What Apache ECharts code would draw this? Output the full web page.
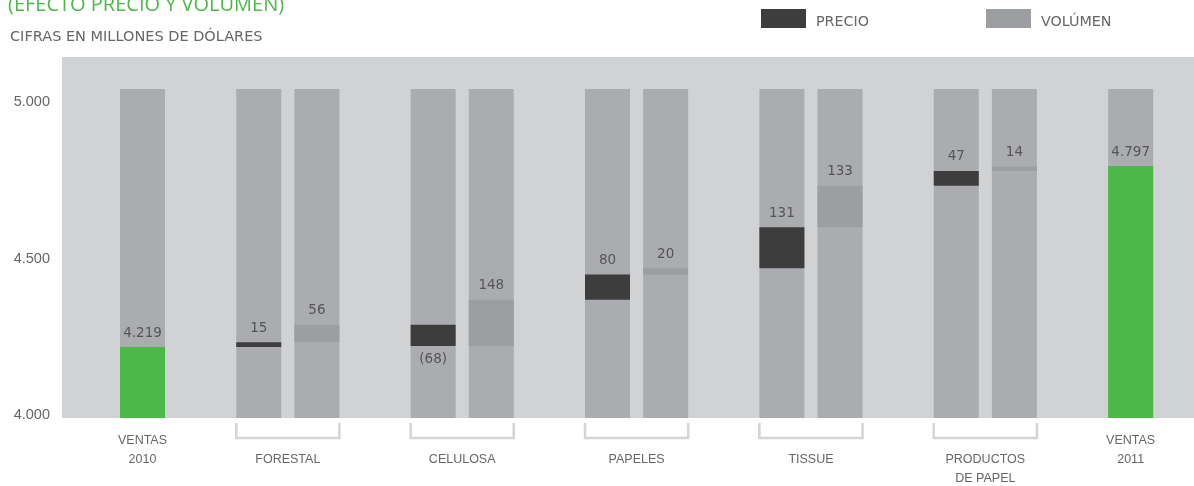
<!DOCTYPE html>
<html>
<head>
<meta charset="utf-8">
<script src="https://cdn.jsdelivr.net/npm/echarts@6/dist/echarts.min.js"></script>
<style>
html,body{margin:0;padding:0;background:#fff;}
#chart{width:1194px;height:486px;}
</style>
</head>
<body>
<div id="chart"></div>
<script>
// ---- data ----
const groupNames = ['VENTAS\n2010', 'FORESTAL', 'CELULOSA', 'PAPELES', 'TISSUE', 'PRODUCTOS\nDE PAPEL', 'VENTAS\n2011'];
const ventas2010 = 4219;
const ventas2011 = 4797;
const precio = [15, -68, 80, 131, 47];     // FORESTAL, CELULOSA, PAPELES, TISSUE, PRODUCTOS DE PAPEL
const volumen = [56, 148, 20, 133, 14];
const yTicks = [4000, 4500, 5000];
const trackTop = 5043;
const legendNames = ['PRECIO', 'VOLÚMEN'];

// ---- layout / style ----
const Y_MIN = 3992, Y_MAX = 5145;
const BAR_W = 45;
const C_BG = '#d1d2d4', C_TRACK = '#abacaf', C_VOL = '#9d9ea1', C_PRE = '#3d3d3d', C_GREEN = '#4cb848';
const FONT = "'Open Sans', 'Noto Sans', sans-serif";
const WIDE = "'DejaVu Sans', 'Open Sans', sans-serif";
const NARROW = "'Liberation Sans Narrow', 'Liberation Sans', sans-serif";

function fmt(v) { return String(v).replace(/\B(?=(\d{3})+(?!\d))/g, '.'); }

// slot positions on x (0 .. 17)
const nSeg = precio.length;
const lastSlot = 2 + 3 * nSeg;
const precioData = [], volumenData = [], bracketData = [];
let run = ventas2010;
for (let i = 0; i < nSeg; i++) {
  const sp = 2 + 3 * i, sv = 3 + 3 * i;
  precioData.push([sp, run, run + precio[i], precio[i]]);
  run += precio[i];
  volumenData.push([sv, run, run + volumen[i], volumen[i]]);
  run += volumen[i];
  bracketData.push([sp, sv]);
}
const allSlots = [0];
for (let i = 0; i < nSeg; i++) allSlots.push(2 + 3 * i, 3 + 3 * i);
allSlots.push(lastSlot);
const labelPos = [0];
for (let i = 0; i < nSeg; i++) labelPos.push(2.5 + 3 * i);
labelPos.push(lastSlot);
const labelMap = {};
labelPos.forEach((p, i) => {
  const bracketed = i > 0 && i < labelPos.length - 1;
  labelMap[String(p)] = bracketed ? '{sp|\u00a0}\n' + groupNames[i] : groupNames[i];
});

function segRenderer(color) {
  return function (params, api) {
    const x = api.value(0), a = api.value(1), b = api.value(2), d = api.value(3);
    const top = api.coord([x, Math.max(a, b)]);
    const bot = api.coord([x, Math.min(a, b)]);
    const label = d >= 0 ? String(d) : '(' + (-d) + ')';
    return {
      type: 'group',
      children: [
        { type: 'rect', shape: { x: top[0] - BAR_W / 2, y: top[1], width: BAR_W, height: bot[1] - top[1] }, style: { fill: color } },
        { type: 'text', style: { text: label, x: top[0], y: d >= 0 ? top[1] - 14 : bot[1] + 14, align: 'center', verticalAlign: 'middle', fill: '#555', font: '13.5px ' + WIDE } }
      ]
    };
  };
}

const legendText = { color: '#666', fontSize: 14.3, fontFamily: WIDE,
  rich: { t: { color: '#666', fontSize: 14.3, fontFamily: WIDE, padding: [7, 0, 0, 5] } } };

const chart = echarts.init(document.getElementById('chart'), null, { renderer: 'canvas' });
chart.setOption({
  animation: false,
  backgroundColor: '#fff',
  title: [
    { text: '(EFECTO PRECIO Y VOLUMEN)', left: 8, top: -5, padding: 0, textStyle: { color: C_GREEN, fontSize: 20, fontWeight: 'normal', fontFamily: FONT } },
    { text: 'CIFRAS EN MILLONES DE DÓLARES', left: 10, top: 30, padding: 0, textStyle: { color: '#666', fontSize: 14.5, fontWeight: 'normal', fontFamily: WIDE } }
  ],
  legend: [
    { data: [legendNames[0]], left: 761, top: 9, padding: 0, itemWidth: 45, itemHeight: 19, icon: 'rect', selectedMode: false,
      formatter: n => '{t|' + n + '}', textStyle: legendText },
    { data: [legendNames[1]], left: 986, top: 9, padding: 0, itemWidth: 45, itemHeight: 19, icon: 'rect', selectedMode: false,
      formatter: n => '{t|' + n + '}', textStyle: legendText }
  ],
  grid: { left: 62, right: 0, top: 57, bottom: 68, show: true, backgroundColor: C_BG, borderWidth: 0, outerBoundsMode: 'none', containLabel: false },
  xAxis: {
    type: 'value', min: -1.385, max: 18.09,
    axisLine: { show: false }, axisTick: { show: false }, splitLine: { show: false },
    axisLabel: {
      customValues: labelPos,
      formatter: v => labelMap[String(v)] || '',
      color: '#666', fontSize: 12.5, fontFamily: NARROW, lineHeight: 19, margin: 13, verticalAlign: 'top',
      rich: { sp: { fontSize: 12.5, lineHeight: 19 } }
    }
  },
  yAxis: {
    type: 'value', min: Y_MIN, max: Y_MAX,
    axisLine: { show: false }, axisTick: { show: false }, splitLine: { show: false },
    axisLabel: { customValues: yTicks, formatter: v => fmt(v), color: '#666', fontSize: 14.5, fontFamily: NARROW, margin: 12, padding: [0, 0, 4, 0] }
  },
  series: [
    { name: 'track', type: 'bar', silent: true, barWidth: BAR_W, barGap: '-100%',
      itemStyle: { color: C_TRACK }, data: allSlots.map(s => [s, trackTop]), z: 1 },
    { name: 'ventas', type: 'bar', silent: true, barWidth: BAR_W, barGap: '-100%',
      itemStyle: { color: C_GREEN }, z: 2,
      label: { show: true, position: 'top', distance: 6, color: '#555', fontSize: 13.5, fontFamily: WIDE, formatter: p => fmt(p.value[1]) },
      data: [[0, ventas2010], [lastSlot, ventas2011]] },
    { name: legendNames[0], type: 'custom', itemStyle: { color: C_PRE }, renderItem: segRenderer(C_PRE), data: precioData, z: 3, silent: true },
    { name: legendNames[1], type: 'custom', itemStyle: { color: C_VOL }, renderItem: segRenderer(C_VOL), data: volumenData, z: 3, silent: true },
    { name: 'brackets', type: 'custom', clip: false, silent: true, z: 3,
      renderItem: function (params, api) {
        const l = api.coord([api.value(0), Y_MIN]);
        const r = api.coord([api.value(1), Y_MIN]);
        const xl = l[0] - BAR_W / 2, xr = r[0] + BAR_W / 2, y0 = l[1] + 5, y1 = l[1] + 20;
        return { type: 'polyline', shape: { points: [[xl, y0], [xl, y1], [xr, y1], [xr, y0]] }, style: { stroke: '#d4d4d4', lineWidth: 2.5, fill: null } };
      },
      data: bracketData }
  ]
});
</script>
</body>
</html>
